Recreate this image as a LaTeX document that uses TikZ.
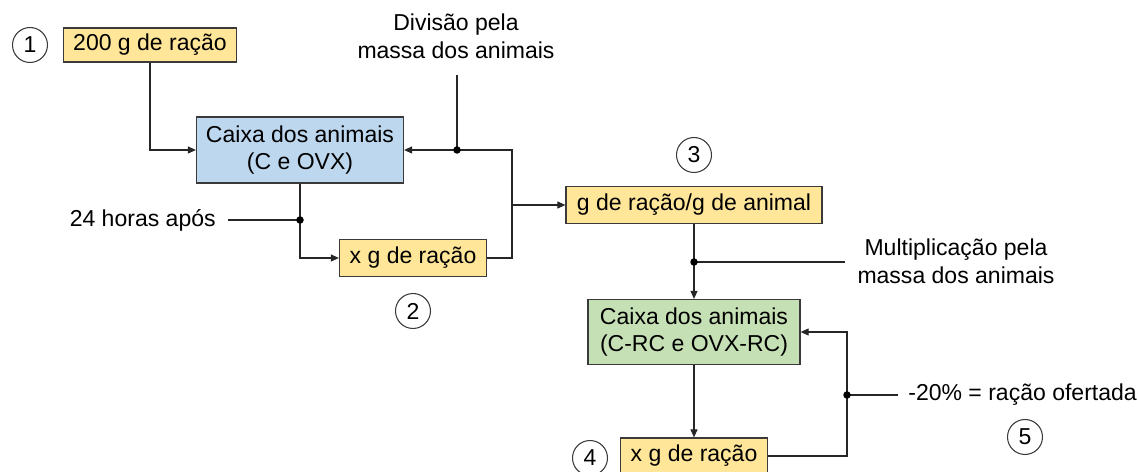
\documentclass[tikz,border=0pt]{standalone}
\usepackage{fontspec}
\setmainfont{Liberation Sans}
\usetikzlibrary{arrows.meta}
\definecolor{boxyellow}{HTML}{FFE699}
\definecolor{boxblue}{HTML}{BDD7EE}
\definecolor{boxgreen}{HTML}{C5E0B4}
\definecolor{edge}{HTML}{3A3A3A}
\tikzset{
  base/.style={font=\fontsize{13.1}{15.8}\selectfont, inner sep=0pt},
  boxnode/.style={base, draw=edge, line width=0.7pt, align=center},
  ybox/.style={boxnode, fill=boxyellow},
  bbox/.style={boxnode, fill=boxblue},
  gbox/.style={boxnode, fill=boxgreen},
  numcirc/.style={base, circle, draw=edge, line width=0.6pt, minimum size=0.7cm},
  lbl/.style={base, align=center},
  conn/.style={draw=black!85, line width=0.6pt},
  arr/.style={conn, -{Triangle[length=1.6mm,width=1.4mm]}},
  jdot/.style={circle, fill=black, inner sep=0pt, minimum size=0.15cm},
}
\begin{document}
\begin{tikzpicture}[x=0.02cm,y=-0.02cm]
\useasboundingbox (0,0) rectangle (1138,472);
% nodes
\node[numcirc] (c1) at (30,45) {1};
\node[ybox, minimum width=173*0.02cm, minimum height=34*0.02cm] (b200) at (150,45) {200 g de ração};
\node[bbox, minimum width=207*0.02cm, minimum height=66*0.02cm] (blue) at (300,150) {Caixa dos animais\\(C e OVX)};
\node[lbl] (div) at (456,36) {Divisão pela\\massa dos animais};
\node[lbl, anchor=east] (h24) at (216,220) {24 horas após};
\node[ybox, minimum width=147*0.02cm, minimum height=37*0.02cm] (x2) at (413,258) {x g de ração};
\node[numcirc] (c2) at (413,311) {2};
\node[numcirc] (c3) at (694,155) {3};
\node[ybox, minimum width=256*0.02cm, minimum height=37*0.02cm] (g3) at (694,205) {g de ração/g de animal};
\node[lbl] (mult) at (956,261) {Multiplicação pela\\massa dos animais};
\node[gbox, minimum width=212*0.02cm, minimum height=65*0.02cm] (green) at (694,332) {Caixa dos animais\\(C-RC e OVX-RC)};
\node[ybox, minimum width=147*0.02cm, minimum height=36*0.02cm] (x4) at (694,456) {x g de ração};
\node[numcirc] (c4) at (590,458) {4};
\node[lbl, anchor=west] (off) at (908,395) {-20\% = ração ofertada};
\node[numcirc] (c5) at (1025,437) {5};
% junction coordinates
\coordinate (r1) at (512,258);
\coordinate (j1) at (457,150);
\coordinate (d1) at (457,75);
\coordinate (j2) at (512,205);
\coordinate (j3) at (300,220);
\coordinate (j4) at (694,262);
\coordinate (m1) at (845,262);
\coordinate (r2) at (847,456);
\coordinate (j5) at (847,395);
% connectors
\draw[arr] (b200.south) |- (blue.west);
\draw[arr] (x2.east) -- (r1) |- (blue.east);
\draw[conn] (d1) -- (j1);
\draw[arr] (j2) -- (g3.west);
\draw[arr] (blue.south) |- (x2.west);
\draw[conn] (h24.east) ++(12,0) -- (j3);
\draw[arr] (g3.south) -- (green.north);
\draw[conn] (j4) -- (m1);
\draw[arr] (green.south) -- (x4.north);
\draw[arr] (x4.east) -- (r2) |- (green.east);
\draw[conn] (j5) -- ([xshift=-10*0.02cm]off.west);
% dots
\node[jdot] at (j1) {};
\node[jdot] at (j3) {};
\node[jdot] at (j4) {};
\node[jdot] at (j5) {};
\end{tikzpicture}
\end{document}
